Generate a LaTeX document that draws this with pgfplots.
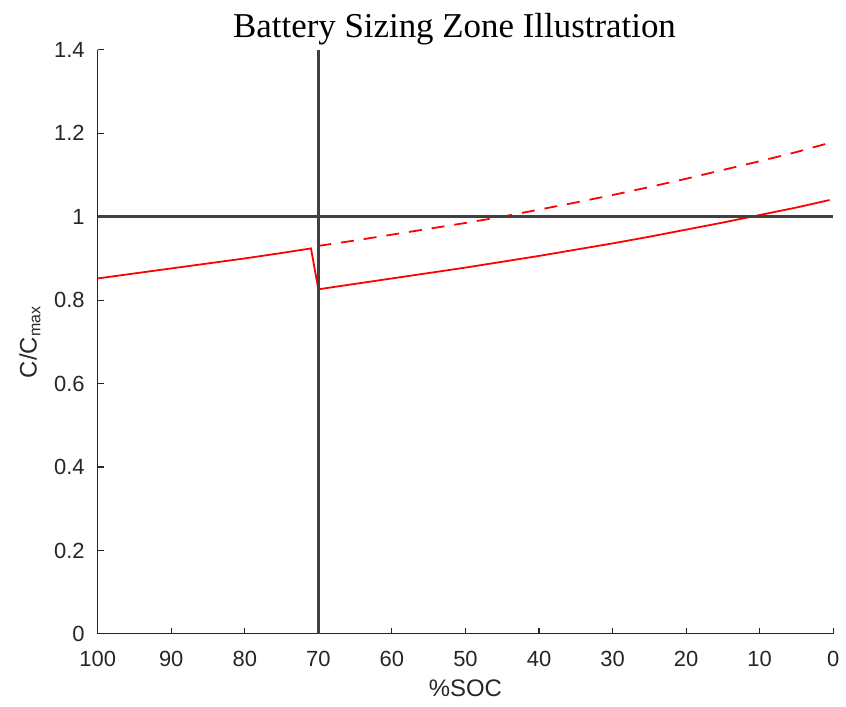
\documentclass[border=0pt]{standalone}
\usepackage{pgfplots}
\pgfplotsset{compat=1.18}
\usepackage{fontspec}
\setmainfont{Liberation Sans}
\newfontfamily\titlefont{Liberation Serif}
\definecolor{axgray}{gray}{0.15}
\definecolor{refgray}{gray}{0.25}
\begin{document}
\begin{tikzpicture}
\begin{axis}[
  scale only axis,
  width=369pt, height=293pt,
  x dir=reverse,
  xmin=0, xmax=100, ymin=0, ymax=1.4,
  axis lines=left,
  axis line style={-, axgray, line width=0.6pt},
  tick align=inside,
  major tick length=3pt,
  tick style={axgray, line width=0.6pt},
  xtick={0,10,...,100},
  ytick={0,0.2,0.4,0.6,0.8,1,1.2,1.4},
  /pgf/number format/assume math mode=true,
  yticklabel style={/pgf/number format/fixed, font=\fontsize{11}{13}\selectfont, text=axgray, xshift=-3pt},
  xticklabel style={font=\fontsize{11}{13}\selectfont, text=axgray, yshift=-5pt},
  title={\titlefont Battery Sizing Zone Illustration},
  title style={font=\fontsize{17.5}{20}\selectfont, yshift=-7pt, xshift=-5.5pt},
  xlabel={\%SOC},
  ylabel={C/C\textsubscript{max}},
  label style={font=\fontsize{12}{14}\selectfont, text=axgray},
  clip=false,
]
\addplot[red, line width=0.9pt] coordinates {
 (100,0.852) (95,0.864) (90,0.876) (85,0.888) (80,0.900) (75,0.913) (71,0.924)
 (70,0.826) (65,0.839) (60,0.852) (55,0.865) (50,0.878) (45,0.892) (40,0.906)
 (35,0.921) (30,0.936) (25,0.952) (20,0.969) (15,0.986) (10,1.004) (5,1.022) (0.5,1.040)
};
\addplot[red, line width=0.9pt, dash pattern=on 6.5pt off 5pt] coordinates {
 (70,0.930) (65,0.943) (60,0.957) (55,0.971) (50,0.985) (45,1.000) (40,1.017)
 (35,1.034) (30,1.052) (25,1.071) (20,1.091) (15,1.112) (10,1.133) (5,1.155) (0.5,1.177)
};
\addplot[refgray, line width=1.3pt] coordinates {(100,1) (0,1)};
\addplot[refgray, line width=1.3pt] coordinates {(70,0) (70,1.4)};
\end{axis}
\path ([xshift=-49pt,yshift=-36.5pt]current axis.south west) rectangle ([xshift=5pt,yshift=25pt]current axis.north east);
\end{tikzpicture}
\end{document}
